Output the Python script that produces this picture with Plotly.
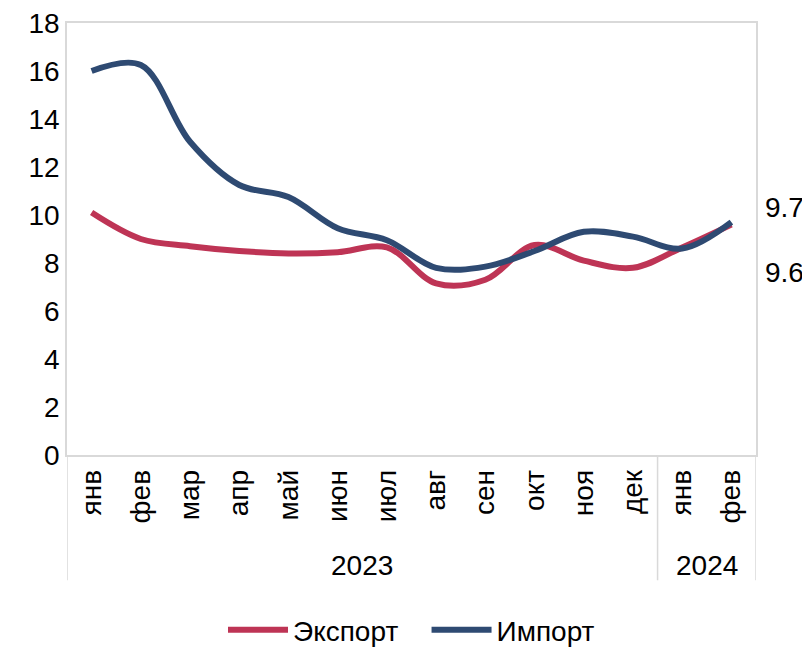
import plotly.graph_objects as go

months = ['янв', 'фев', 'мар', 'апр', 'май', 'июн', 'июл', 'авг', 'сен', 'окт', 'ноя', 'дек', 'янв', 'фев']
years = ['2023', '2024']
year_counts = [12, 2]
export = [10.1, 9.0, 8.7, 8.5, 8.4, 8.45, 8.65, 7.15, 7.3, 8.75, 8.1, 7.8, 8.65, 9.6]
imports = [16.0, 16.25, 13.05, 11.25, 10.75, 9.45, 8.95, 7.8, 7.85, 8.5, 9.3, 9.1, 8.6, 9.7]
end_labels = ['9.7', '9.6']

x = list(range(len(months)))
font = 'Liberation Sans, Arial, sans-serif'
grey = '#D9D9D9'
fs = 28

fig = go.Figure()
fig.add_trace(go.Scatter(x=x, y=export, name='Экспорт\u00a0\u00a0\u00a0', mode='lines',
                         line=dict(color='#BE3455', width=6, shape='spline', smoothing=1)))
fig.add_trace(go.Scatter(x=x, y=imports, name='Импорт', mode='lines',
                         line=dict(color='#2E4A72', width=6, shape='spline', smoothing=1)))

# year group labels and separator lines under the axis
start = -0.5
fig.add_shape(type='line', xref='x', yref='paper', x0=start, x1=start, y0=0, y1=-0.29,
              line=dict(color=grey, width=1.5))
for yr, n in zip(years, year_counts):
    end = start + n
    fig.add_shape(type='line', xref='x', yref='paper', x0=end, x1=end, y0=0, y1=-0.29,
                  line=dict(color=grey, width=1.5))
    fig.add_annotation(x=(start + end) / 2, y=-0.255, xref='x', yref='paper', text=yr,
                       yanchor='middle', showarrow=False,
                       font=dict(size=fs, color='black', family=font))
    start = end

# values of the last month, written right of the plot
fig.add_annotation(x=1.01, y=10.3, xref='paper', yref='y', text=end_labels[0], xanchor='left',
                   showarrow=False, font=dict(size=fs, color='black', family=font))
fig.add_annotation(x=1.01, y=7.6, xref='paper', yref='y', text=end_labels[1], xanchor='left',
                   showarrow=False, font=dict(size=fs, color='black', family=font))

fig.update_xaxes(range=[-0.5, 13.5], tickvals=x, ticktext=months, tickangle=-90,
                 showgrid=False, zeroline=False, showline=True, linecolor=grey, linewidth=1.5,
                 mirror=True, ticks='', ticklabelstandoff=2, automargin=False,
                 ticklabeloverflow='allow',
                 tickfont=dict(size=fs, color='black', family=font))
fig.update_yaxes(range=[0, 18], dtick=2, showgrid=False, zeroline=False, showline=True,
                 linecolor=grey, linewidth=1.5, mirror=True, ticks='', automargin=False,
                 ticklabeloverflow='allow',
                 tickfont=dict(size=fs, color='black', family=font))

# the page body adds 8px on the left and top, margins allow for it
fig.update_layout(
    width=810, height=648,
    margin=dict(l=59, r=62, t=15, b=201),
    plot_bgcolor='white', paper_bgcolor='white',
    legend=dict(orientation='h', x=0.5, xanchor='center', yref='container', y=0.04,
                yanchor='middle', font=dict(size=fs, color='black', family=font), itemwidth=60),
)

fig.write_html("out.html")
